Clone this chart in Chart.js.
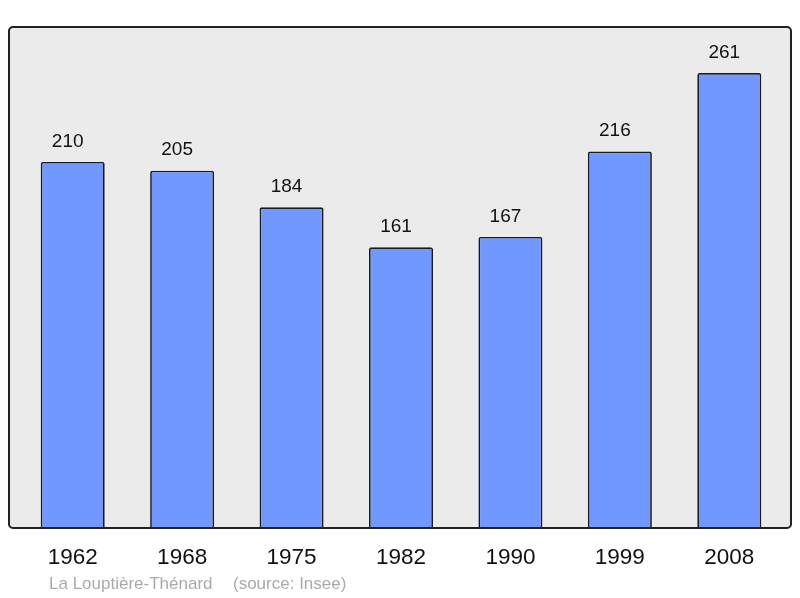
<!DOCTYPE html>
<html>
<head>
<meta charset="utf-8">
<script src="https://cdn.jsdelivr.net/npm/chart.js@4"></script>
<style>
  html, body { margin: 0; padding: 0; background: #fff; }
  #wrap { width: 800px; height: 598px; }
</style>
</head>
<body>
<div id="wrap"><canvas id="popChart" width="800" height="598"></canvas></div>
<script>
// Population data
const years = ['1962', '1968', '1975', '1982', '1990', '1999', '2008'];
const population = [210, 205, 184, 161, 167, 216, 261];
const place = 'La Louptière-Thénard';
const source = '(source: Insee)';

// frame behind the bars, a bit wider than the chart area
const framePlugin = {
    id: 'frame',
    beforeDraw(chart) {
        const c = chart.ctx, a = chart.chartArea;
        const x0 = 9, x1 = 791, y0 = a.top, y1 = a.bottom;
        c.save();
        c.beginPath();
        c.roundRect(x0, y0, x1 - x0, y1 - y0, 4);
        c.fillStyle = '#ebebeb';
        c.fill();
        c.restore();
    },
    afterDatasetsDraw(chart) {
        const c = chart.ctx, a = chart.chartArea;
        const x0 = 9, x1 = 791, y0 = a.top, y1 = a.bottom;
        c.save();
        c.beginPath();
        c.roundRect(x0, y0, x1 - x0, y1 - y0, 4);
        c.lineWidth = 2;
        c.strokeStyle = '#222';
        c.stroke();

        // value labels (sit a little left of bar centre, like the original)
        c.font = '19px "Liberation Sans", Arial, sans-serif';
        c.fillStyle = '#111';
        c.textAlign = 'center';
        c.textBaseline = 'bottom';
        chart.getDatasetMeta(0).data.forEach((bar, i) => {
            c.fillText(String(population[i]), bar.x - 5, bar.y - 11);
        });

        // footer
        c.font = '17px "Liberation Sans", Arial, sans-serif';
        c.fillStyle = '#aaaaaa';
        c.textAlign = 'left';
        c.textBaseline = 'middle';
        c.fillText(place, 49, 584);
        c.fillText(source, 233, 584);
        c.restore();
    }
};

new Chart(document.getElementById('popChart'), {
    type: 'bar',
    data: {
        labels: years,
        datasets: [{
            data: population,
            backgroundColor: '#7098ff',
            borderColor: '#1a1a1a',
            borderWidth: 1.7,
            borderRadius: 2,
            borderSkipped: 'bottom',
            categoryPercentage: 1,
            barPercentage: 0.585
        }]
    },
    options: {
        responsive: false,
        animation: false,
        layout: { padding: { left: 18, right: 16, top: 27, bottom: 11 } },
        plugins: { legend: { display: false }, tooltip: { enabled: false } },
        scales: {
            x: {
                grid: { display: false, drawTicks: false },
                border: { display: false },
                ticks: {
                    padding: 16,
                    color: '#111',
                    font: { family: '"Liberation Sans", Arial, sans-serif', size: 22.5 }
                }
            },
            y: {
                display: false,
                min: 0,
                max: 287.4
            }
        }
    },
    plugins: [framePlugin]
});
</script>
</body>
</html>
